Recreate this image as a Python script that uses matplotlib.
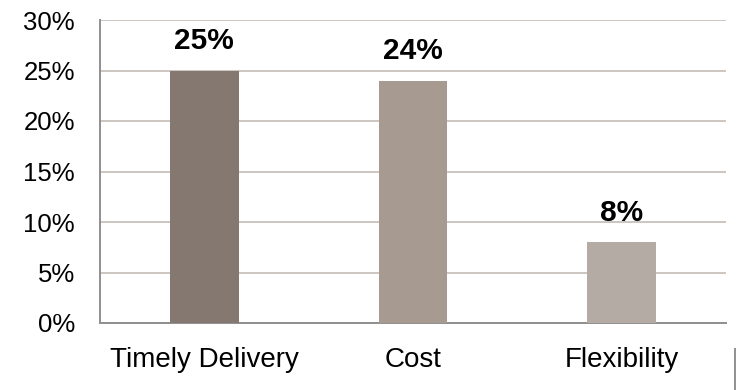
import matplotlib.pyplot as plt
from matplotlib.lines import Line2D

categories = ["Timely Delivery", "Cost", "Flexibility"]
values = [25, 24, 8]
bar_colors = ["#857870", "#a69a91", "#b4aba5"]
y_ticks = [0, 5, 10, 15, 20, 25, 30]

plt.rcParams['font.family'] = ['Liberation Sans', 'DejaVu Sans']

fig = plt.figure(figsize=(7.39, 3.90), dpi=100)
ax = fig.add_axes([100 / 739, 1 - 323 / 390, 626 / 739, 303 / 390])

x = list(range(len(categories)))
bars = ax.bar(x, values, width=0.33, color=bar_colors, zorder=3)

for b, v in zip(bars, values):
    ax.annotate("%d%%" % v, (b.get_x() + b.get_width() / 2, v),
                xytext=(0, 11), textcoords="offset points",
                ha="center", va="bottom", fontsize=21.5, fontweight="bold")

ax.set_xlim(-0.5, len(categories) - 0.5)
ax.set_ylim(0, 30)
ax.set_yticks(y_ticks)
ax.set_yticklabels(["%d%%" % t for t in y_ticks])
ax.set_xticks(x)
ax.set_xticklabels(categories)

ax.yaxis.grid(True, color="#c9c0bb", linewidth=1.3, zorder=0)
ax.set_axisbelow(True)
ax.tick_params(axis="both", length=0)
ax.tick_params(axis="y", pad=18, labelsize=18.5)
ax.tick_params(axis="x", pad=17, labelsize=20)

for s in ["top", "right"]:
    ax.spines[s].set_visible(False)
for s in ["left", "bottom"]:
    ax.spines[s].set_color("#8f8f8f")
    ax.spines[s].set_linewidth(1.4)

# small divider at lower right
fig.add_artist(Line2D([735 / 739, 735 / 739], [0, 1 - 349 / 390],
                      color="#8f8f8f", linewidth=1.4))

fig.savefig("out.png", dpi=100)
